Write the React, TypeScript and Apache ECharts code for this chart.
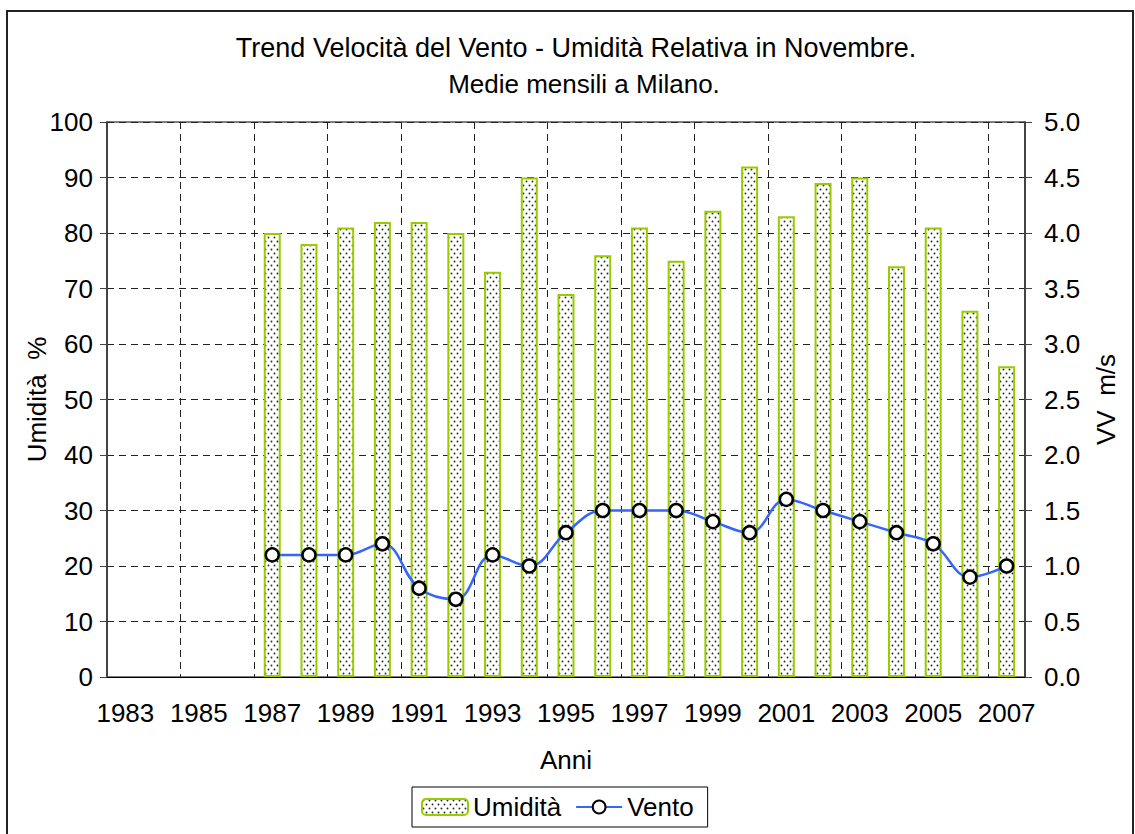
import React, { useEffect, useRef } from "react";
import * as echarts from "echarts";

const years = [
  "1983", "1984", "1985", "1986", "1987", "1988", "1989", "1990", "1991", "1992",
  "1993", "1994", "1995", "1996", "1997", "1998", "1999", "2000", "2001", "2002",
  "2003", "2004", "2005", "2006", "2007",
];
const humidity: (number | null)[] = [
  null, null, null, null, 80, 78, 81, 82, 82, 80,
  73, 90, 69, 76, 81, 75, 84, 92, 83, 89,
  90, 74, 81, 66, 56,
];
const wind: (number | null)[] = [
  null, null, null, null, 1.1, 1.1, 1.1, 1.2, 0.8, 0.7,
  1.1, 1.0, 1.3, 1.5, 1.5, 1.5, 1.4, 1.3, 1.6, 1.5,
  1.4, 1.3, 1.2, 0.9, 1.0,
];
const titleLines = [
  "Trend Velocità del Vento - Umidità Relativa in Novembre.",
  "Medie mensili a Milano.",
];
const FONT = "'Liberation Sans', Arial, sans-serif";

function makeDots(): HTMLCanvasElement {
  const c = document.createElement("canvas");
  c.width = 6;
  c.height = 8;
  const ctx = c.getContext("2d")!;
  ctx.fillStyle = "#ffffff";
  ctx.fillRect(0, 0, 6, 8);
  ctx.fillStyle = "#2a2a2a";
  ctx.beginPath();
  ctx.arc(1.5, 1.5, 0.95, 0, Math.PI * 2);
  ctx.arc(4.5, 5.5, 0.95, 0, Math.PI * 2);
  ctx.fill();
  return c;
}

export default function App() {
  const ref = useRef<HTMLDivElement>(null);
  useEffect(() => {
    if (!ref.current) return;
    const chart = echarts.init(ref.current, undefined, { renderer: "svg" });
    const dots = makeDots();
    const axisText = { fontSize: 26, color: "#000", fontFamily: FONT };
    chart.setOption({
      animation: false,
      backgroundColor: "#fff",
      textStyle: { fontFamily: FONT },
      grid: {
        left: 107, top: 122, width: 918, height: 555, containLabel: false,
        show: true, borderColor: "#000", borderWidth: 1, backgroundColor: "transparent",
      },
      graphic: [
        {
          type: "rect", silent: true, z: -1,
          shape: { x: 7, y: 11, width: 1126, height: 830 },
          style: { fill: "none", stroke: "#222", lineWidth: 2 },
        },
        {
          type: "text", x: 576, y: 48,
          style: { text: titleLines[0], fontSize: 27, fontFamily: FONT, fill: "#000", textAlign: "center", textVerticalAlign: "middle" },
        },
        {
          type: "text", x: 584, y: 84,
          style: { text: titleLines[1], fontSize: 26, fontFamily: FONT, fill: "#000", textAlign: "center", textVerticalAlign: "middle" },
        },
      ],
      legend: {
        left: 412, top: 787,
        padding: [7, 14, 7, 9],
        itemGap: 14,
        itemWidth: 46, itemHeight: 16,
        borderColor: "#000", borderWidth: 1,
        textStyle: { fontSize: 26, color: "#000", fontFamily: FONT },
        data: ["Umidità", "Vento"],
      },
      xAxis: {
        type: "category",
        data: years,
        boundaryGap: true,
        name: "Anni",
        nameLocation: "middle",
        nameGap: 70,
        nameMoveOverlap: false,
        nameTextStyle: axisText,
        axisLine: { lineStyle: { color: "#000", width: 1 } },
        axisTick: { interval: 1, length: 7, lineStyle: { color: "#333" } },
        axisLabel: { interval: 1, margin: 23, ...axisText },
        splitLine: { show: true, interval: 1, lineStyle: { color: "#222", type: [7, 5], width: 1 } },
      },
      yAxis: [
        {
          type: "value", min: 0, max: 100, interval: 10,
          name: "Umidità  %", nameLocation: "middle", nameGap: 57, nameRotate: 90,
          nameMoveOverlap: false,
          nameTextStyle: axisText,
          axisLine: { show: true, lineStyle: { color: "#444", width: 2 } },
          axisTick: { show: true, length: 7, lineStyle: { color: "#444" } },
          axisLabel: { margin: 14, ...axisText },
          splitLine: { show: true, lineStyle: { color: "#222", type: [7, 5], width: 1 } },
        },
        {
          type: "value", min: 0, max: 5, interval: 0.5, position: "right",
          name: "VV  m/s", nameLocation: "middle", nameGap: 68, nameRotate: 90,
          nameMoveOverlap: false,
          nameTextStyle: axisText,
          axisLine: { show: true, lineStyle: { color: "#444", width: 2 } },
          axisTick: { show: true, length: 7, lineStyle: { color: "#444" } },
          axisLabel: { margin: 19, ...axisText, formatter: (v: number) => v.toFixed(1) },
          splitLine: { show: false },
        },
      ],
      series: [
        {
          name: "Umidità",
          type: "bar",
          data: humidity,
          barWidth: 17,
          yAxisIndex: 0,
          itemStyle: {
            color: { image: dots, repeat: "repeat" },
            borderColor: "#99CC00",
            borderWidth: 2,
          },
        },
        {
          name: "Vento",
          type: "line",
          data: wind,
          yAxisIndex: 1,
          smooth: 0.4,
          symbol: "circle",
          symbolSize: 13,
          lineStyle: { color: "#3366FF", width: 2.5 },
          itemStyle: { color: "#fff", borderColor: "#000", borderWidth: 2.5 },
          z: 5,
        },
      ],
    });
    return () => chart.dispose();
  }, []);
  return (
    <div
      ref={ref}
      style={{ position: "fixed", left: 0, top: 0, width: 1135, height: 834 }}
    />
  );
}
